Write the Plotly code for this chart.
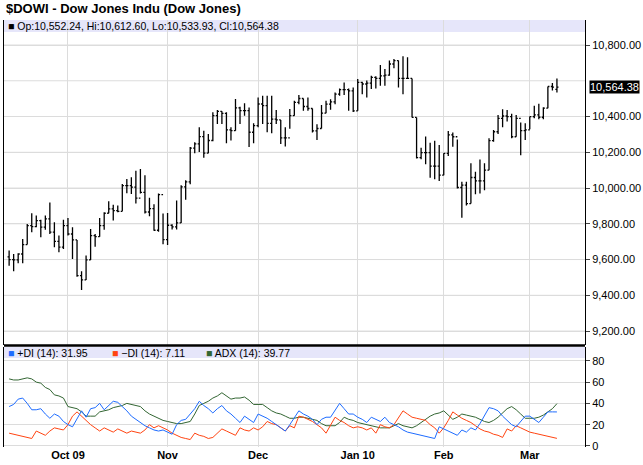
import pandas as pd
import plotly.graph_objects as go

holidays = ["2009-11-26", "2009-12-25", "2010-01-01", "2010-01-18", "2010-02-15"]
dates = [d for d in pd.bdate_range("2009-09-14", "2010-03-09") if d.strftime("%Y-%m-%d") not in holidays]

close = [9600,9598,9631,9684,9790,9784,9818,9781,9827,9753,9702,9669,9790,9743,9710,9510,9486,9598,9734,9728,9790,9859,9883,9874,9870,10014,10014,10005,
         9944,9976,
         9866,9885,9764,9963,9712,9792,9783,9805,10006,10034,10223,10247,10288,10195,10266,10405,10429,10418,10325,10321,10448,10433,10433,10312,10349,10470,10461,10362,10386,10381,10281,10281,10405,
         10479,10501,10456,10445,10320,10333,10419,10469,10482,10525,10550,10550,10544,10432,10591,10582,10587,10619,10613,10628,10632,10694,10713,10613,10613,10613,10395,10170,10198,10198,10123,10123,
         10072,10194,10297,10287,10003,10016,9913,10059,10040,10040,10100,10265,10315,10390,10403,10400,10287,10390,10321,10325,10400,10409,10396,10447,10568,10565,10564.38]
high = [9650,9631,9635,9715,9799,9859,9846,9822,9846,9919,9809,9734,9822,9833,9781,9710,9534,9622,9771,9743,9833,9865,9926,9907,9902,10023,10050,10060,
        10097,10106,
        10071,9946,9909,9969,9857,9861,9798,9931,10015,10043,10229,10256,10340,10321,10303,10424,10437,10429,10424,10340,10498,10455,10474,10451,10362,10507,10516,10516,10516,10437,10381,10340,10442,
        10488,10520,10501,10507,10445,10357,10464,10488,10497,10535,10557,10591,10557,10563,10610,10595,10601,10628,10625,10688,10666,10713,10722,10713,10737,10731,10613,10395,10226,10288,10254,10264,
        10241,10194,10319,10310,10272,10035,10035,10138,10091,10160,10138,10278,10325,10409,10441,10437,10415,10409,10366,10362,10400,10460,10471,10452,10568,10587,10612.60]
low = [9566,9534,9579,9579,9684,9753,9781,9725,9766,9743,9669,9641,9659,9734,9603,9504,9430,9486,9598,9672,9728,9766,9859,9818,9865,9870,9971,9967,
       9914,9969,
       9857,9842,9761,9755,9685,9681,9768,9768,9805,9935,10021,10195,10201,10169,10195,10262,10358,10358,10251,10266,10321,10358,10405,10229,10251,10340,10358,10312,10307,10358,10247,10232,10331,
       10404,10469,10432,10432,10310,10269,10333,10419,10438,10469,10516,10520,10432,10426,10432,10525,10507,10554,10557,10572,10572,10628,10670,10563,10525,10610,10395,10165,10161,10133,10058,10049,
       10040,10072,10179,10231,9997,9834,9903,9913,9965,9969,9988,10100,10259,10302,10340,10372,10278,10287,10184,10269,10329,10390,10385,10385,10447,10546,10533.93]
opn = [9615,9600,9598,9631,9684,9790,9784,9818,9781,9827,9753,9702,9669,9790,9743,9710,9510,9486,9598,9734,9728,9790,9859,9883,9874,9870,10014,10014,
       10005,9944,
       9976,9866,9885,9764,9963,9712,9792,9783,9805,10006,10034,10223,10247,10288,10195,10266,10405,10429,10418,10325,10321,10448,10433,10433,10312,10349,10470,10461,10362,10386,10381,10281,10281,
       10405,10479,10501,10456,10445,10320,10333,10419,10469,10482,10525,10550,10550,10544,10432,10591,10582,10587,10619,10613,10628,10632,10694,10713,10613,10613,10613,10395,10170,10198,10198,10123,
       10123,10072,10194,10297,10287,10003,10016,9913,10059,10040,10040,10100,10265,10315,10390,10403,10400,10287,10390,10321,10325,10400,10409,10396,10447,10568,10552.24]

plus_di = [37,39,44,45,40,34,34,35,30,26,30,28,23,20,
           18,26,33,27,35,36,40,34,38,42,41,37,33,28,25,22,
           19,17,15,14,15,13,11,20,24,25,30,35,42,38,35,
           31,35,38,33,30,26,22,28,25,22,30,28,26,23,20,
           17,14,20,26,33,30,28,25,20,25,27,27,33,40,35,
           30,30,27,25,22,27,25,23,27,22,20,18,15,13,12,
           11,10,9,8,7,18,16,14,12,10,15,13,17,15,21,
           28,36,35,33,28,24,20,18,23,28,28,25,22,27,32,32,31.95]
minus_di = [12,11,10,9,8,7,14,12,10,14,17,16,15,20,
            28,32,28,24,20,17,14,17,15,13,16,14,12,14,13,12,
            15,20,17,19,17,15,12,10,8,7,6,12,10,9,7,
            8,12,16,14,12,10,17,15,14,17,15,18,23,21,20,
            17,14,19,17,28,27,25,23,20,17,12,20,27,24,22,
            19,17,18,17,15,17,12,20,18,17,20,26,33,30,27,
            26,25,24,20,17,12,17,24,32,29,26,24,22,19,16,
            14,13,11,10,8,16,14,19,17,15,13,12,11,10,9,8,7.11]
adx = [63,62,62,63,64,63,60,59,55,53,48,47,45,37,
       36,35,32,28,28,28,32,33,34,36,37,38,40,39,38,37,
       33,30,28,26,24,23,22,21,21,22,23,30,38,40,42,
       45,47,50,47,44,45,45,46,43,39,39,39,36,33,31,
       30,28,26,26,27,27,26,25,24,21,19,19,19,22,27,
       25,24,22,21,20,19,18,17,17,17,19,21,19,18,17,
       19,22,25,28,30,31,33,29,25,27,30,29,28,27,25,
       23,22,24,27,31,35,37,34,30,26,26,26,27,29,32,35,39.77]

price_ticks = [9200, 9400, 9600, 9800, 10000, 10200, 10400, 10800]
grid_levels = [9200, 9400, 9600, 9800, 10000, 10200, 10400, 10600, 10800]

n = len(close)
idx = list(range(n))
tick_idx, tick_txt = [], []
for i, d in enumerate(dates[:n]):
    if i > 0 and d.month != dates[i - 1].month:
        tick_idx.append(i)
        tick_txt.append(d.strftime("%b %y") if d.month in (10, 1) else d.strftime("%b"))

H, W = 465, 643
ML, MR, MT, MB = 4, 58, 20, 18
PH = H - MT - MB
def fy(py):
    return (H - MB - py) / PH

fig = go.Figure()
fig.add_trace(go.Ohlc(x=idx, open=opn, high=high, low=low, close=close,
                      increasing=dict(line=dict(color="black", width=1.3)),
                      decreasing=dict(line=dict(color="black", width=1.3)),
                      tickwidth=0.35, xaxis="x", yaxis="y", showlegend=False, hoverinfo="skip"))
for vals, col in [(adx, "#336633"), (minus_di, "#ff4411"), (plus_di, "#1e6cff")]:
    fig.add_trace(go.Scatter(x=idx, y=vals, mode="lines", line=dict(color=col, width=1),
                             xaxis="x2", yaxis="y2", showlegend=False, hoverinfo="skip"))

grid = "#dcdcdc"
tf = dict(size=11, family="Liberation Sans, Arial")
xcommon = dict(range=[-1.13, 127.2], tickvals=tick_idx, showgrid=True, gridcolor=grid,
               zeroline=False, showline=False, fixedrange=True, automargin=False)
fig.update_layout(
    width=W, height=H, margin=dict(l=ML, r=MR, t=MT, b=MB, autoexpand=False),
    paper_bgcolor="white", plot_bgcolor="white",
    font=dict(family="Liberation Sans, Arial", size=11, color="black"),
    xaxis=dict(**xcommon, domain=[0, 1], anchor="y", showticklabels=False, rangeslider=dict(visible=False)),
    xaxis2=dict(**xcommon, domain=[0, 1], anchor="y2", ticktext=tick_txt, ticks="",
                tickfont=dict(size=11, family="Liberation Sans, Arial", weight="bold"), matches="x"),
    yaxis=dict(domain=[fy(345), 1], range=[9122, 10940], side="right", tickvals=price_ticks,
               tickformat=",.2f", showgrid=True, gridcolor=grid, ticks="outside", ticklen=4, tickfont=tf,
               zeroline=False, showline=True, linecolor="black", mirror=True, anchor="x", automargin=False),
    yaxis2=dict(domain=[0, fy(347)], range=[-1, 93], side="right", tickvals=[0, 20, 40, 60, 80],
                showgrid=True, gridcolor=grid, ticks="outside", ticklen=4, tickfont=tf,
                zeroline=False, showline=True, linecolor="black", mirror=True, anchor="x2", automargin=False),
)

for g in grid_levels:
    fig.add_shape(type="line", xref="x", yref="y", x0=-1.13, x1=127.2, y0=g, y1=g,
                  line=dict(color=grid, width=1), layer="below")
fig.add_shape(type="rect", xref="paper", yref="paper", x0=0, x1=1, y0=fy(32), y1=1,
              fillcolor="#e6e6fa", line=dict(width=0), layer="below")
fig.add_shape(type="rect", xref="paper", yref="paper", x0=0, x1=1, y0=fy(358), y1=fy(347),
              fillcolor="#e6e6fa", line=dict(width=0), layer="below")
fig.add_shape(type="line", xref="paper", yref="paper", x0=0, x1=1, y0=fy(345.5), y1=fy(345.5),
              line=dict(color="black", width=2.5))

fig.add_annotation(text="$DOWI - Dow Jones Indu (Dow Jones)", xref="paper", yref="paper",
                   x=0, y=fy(9), xshift=0, xanchor="left", yanchor="middle", showarrow=False,
                   font=dict(size=13, family="Liberation Sans, Arial", weight="bold"))
fig.add_annotation(text="■ Op:10,552.24, Hi:10,612.60, Lo:10,533.93, Cl:10,564.38", xref="paper", yref="paper",
                   x=0.003, y=fy(26), xanchor="left", yanchor="middle", showarrow=False,
                   font=dict(size=10.5))
legs = [("+DI (14): 31.95", "#1e6cff", 0.003), ("−DI (14): 7.11", "#ff4411", 0.183), ("ADX (14): 39.77", "#336633", 0.345)]
for txt, col, xp in legs:
    fig.add_annotation(text=f"<span style='color:{col}'>■</span> {txt}", xref="paper", yref="paper",
                       x=xp, y=fy(352.5), xanchor="left", yanchor="middle", showarrow=False,
                       font=dict(size=10.5))
fig.add_annotation(text="10,564.38", xref="paper", yref="y", x=1, y=close[-1], xanchor="left", xshift=4,
                   showarrow=False, bgcolor="black", font=dict(color="white", size=11, family="Liberation Sans, Arial"),
                   borderpad=0)

fig.write_html("out.html", config={"displayModeBar": False},
               post_script="document.body.style.margin='0';document.body.style.overflow='hidden';")
